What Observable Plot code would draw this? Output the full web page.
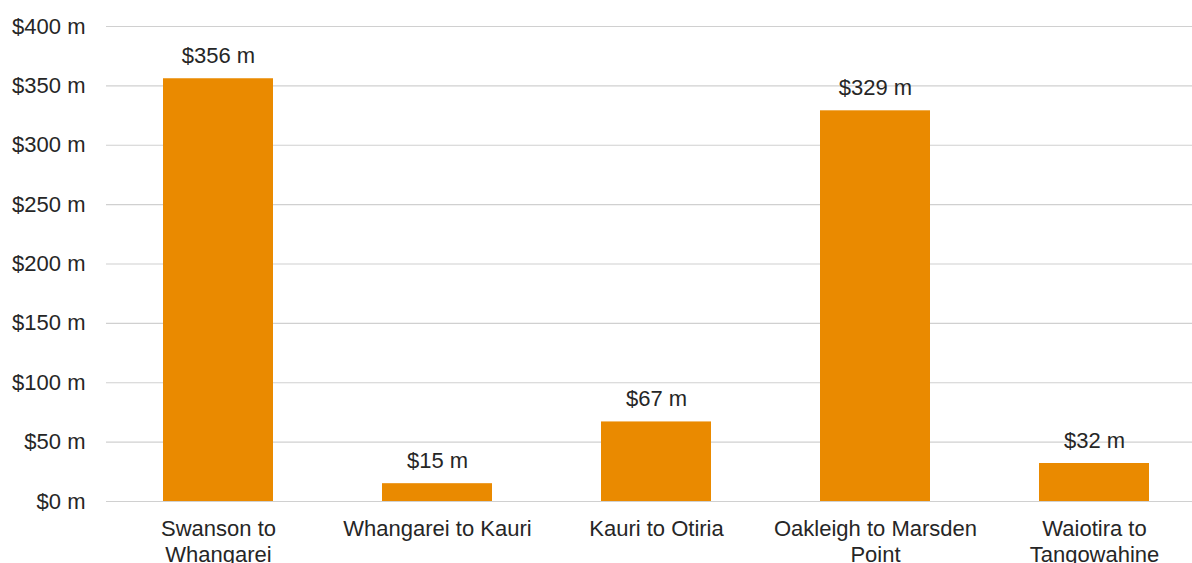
<!DOCTYPE html>
<html>
<head>
<meta charset="utf-8">
<script src="https://cdn.jsdelivr.net/npm/d3@7"></script>
<script src="https://cdn.jsdelivr.net/npm/@observablehq/plot@0.6"></script>
<style>
  html, body { margin: 0; padding: 0; background: #fff; overflow: hidden; }
  #chart { width: 1192px; height: 563px; overflow: hidden; }
  #chart svg { max-width: none !important; }
</style>
</head>
<body>
<div id="chart"></div>
<script>
const categories = ["Swanson to\nWhangarei", "Whangarei to Kauri", "Kauri to Otiria", "Oakleigh to Marsden\nPoint", "Waiotira to\nTangowahine"];
const values = [356, 15, 67, 329, 32];
const yTicks = [0, 50, 100, 150, 200, 250, 300, 350, 400];

const data = categories.map((c, i) => ({category: c, value: values[i]}));
const fmt = v => `$${v} m`;

const chart = Plot.plot({
  width: 1205,
  height: 563,
  marginLeft: 106,
  marginRight: 0,
  marginTop: 26,
  marginBottom: 62,
  style: {fontFamily: "Arial, 'Liberation Sans', sans-serif", fontSize: "22px", color: "#262626", background: "#fff", maxWidth: "none"},
  x: {domain: categories, paddingInner: 0.5, paddingOuter: 0.25, axis: null},
  y: {domain: [0, 400], axis: null},
  marks: [
    Plot.ruleY(yTicks, {stroke: "#d0d0d0", strokeWidth: 1.2}),
    Plot.barY(data, {x: "category", y: "value", fill: "#EA8A00"}),
    Plot.text(data, {x: "category", y: "value", text: d => fmt(d.value), dy: -23, lineAnchor: "middle", fill: "#262626", fontSize: 22}),
    Plot.axisY(yTicks, {label: null, tickSize: 0, tickPadding: 21, tickFormat: fmt, fontSize: 22, fill: "#262626"}),
    Plot.text(data, {x: "category", y: () => 0, text: "category", lineAnchor: "top", dy: 17, lineHeight: 1.15, fontSize: 22, fill: "#262626"})
  ]
});
document.getElementById("chart").appendChild(chart);
</script>
</body>
</html>
